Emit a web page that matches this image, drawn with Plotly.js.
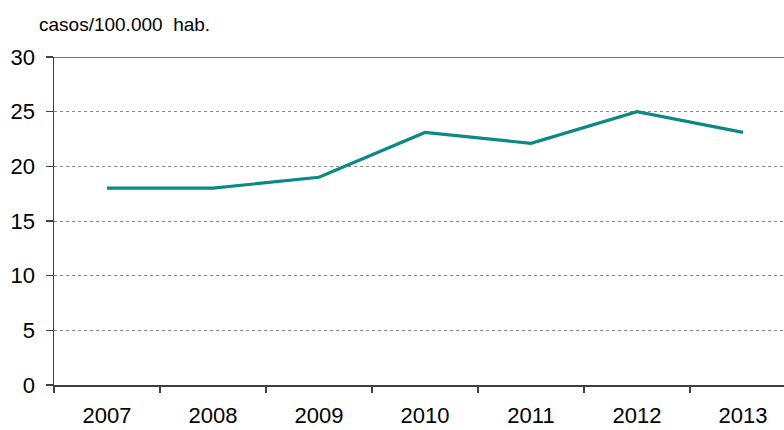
<!DOCTYPE html>
<html><head><meta charset="utf-8">
<script src="https://cdn.plot.ly/plotly-3.0.1.min.js"></script>
<style>html,body{margin:0;padding:0;overflow:hidden;background:#fff}</style>
</head><body><div id="chart" style="width:784px;height:430px"></div>
<script>
const years = ["2007","2008","2009","2010","2011","2012","2013"];
const rates = [18, 18, 19, 23.1, 22.1, 25, 23.1];
const yTicks = [0, 5, 10, 15, 20, 25, 30];
const unitLabel = "casos/100.000&nbsp;&nbsp;hab.";

const trace = {
  x: years, y: rates, type: "scatter", mode: "lines",
  line: {color: "#0b8983", width: 3.2}, hoverinfo: "skip"
};
const layout = {
  width: 784, height: 430,
  margin: {l: 54, r: 0, t: 57, b: 45},
  paper_bgcolor: "#fff", plot_bgcolor: "#fff",
  showlegend: false,
  font: {family: "Liberation Sans, Arial, sans-serif", color: "#000"},
  xaxis: {
    type: "category", range: [-0.5, 6.387], tickson: "boundaries",
    ticks: "outside", ticklen: 6, tickcolor: "#404040", tickwidth: 1.5,
    showline: true, linecolor: "#404040", linewidth: 1.5,
    showgrid: false, zeroline: false,
    tickfont: {size: 22}, ticklabelstandoff: 10
  },
  yaxis: {
    range: [0, 30], tickvals: yTicks, ticktext: yTicks.map(String),
    ticks: "outside", ticklen: 7, tickcolor: "#404040", tickwidth: 1.5,
    showline: true, linecolor: "#404040", linewidth: 1.5,
    showgrid: true, gridcolor: "#888", griddash: "dot", gridwidth: 1,
    zeroline: false, tickfont: {size: 22}, ticklabelstandoff: 6
  },
  shapes: [{type: "line", xref: "paper", yref: "y", x0: 0, x1: 1, y0: 30, y1: 30,
            line: {color: "#404040", width: 1.5}}],
  annotations: [{text: unitLabel, xref: "paper", yref: "paper", x: -0.023, y: 1.0,
    xanchor: "left", yanchor: "bottom", yshift: 20, showarrow: false,
    font: {size: 19, color: "#000"}}]
};
Plotly.newPlot("chart", [trace], layout, {displayModeBar: false, staticPlot: true});
</script></body></html>
